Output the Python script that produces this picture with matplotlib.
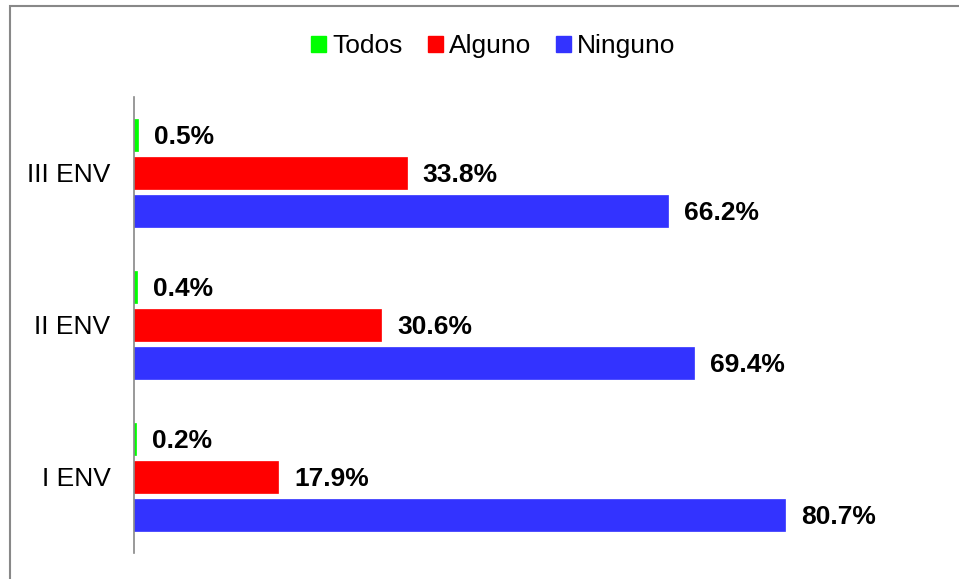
import matplotlib.pyplot as plt
from matplotlib.patches import Rectangle, Patch
import numpy as np

# survey rounds and share of answers (%)
categories = ['I ENV', 'II ENV', 'III ENV']
todos = [0.2, 0.4, 0.5]
alguno = [17.9, 30.6, 33.8]
ninguno = [80.7, 69.4, 66.2]

series_names = ['Todos', 'Alguno', 'Ninguno']
colors = ['#00FF00', '#FF0000', '#3333FF']

plt.rcParams['font.family'] = ['Liberation Sans', 'DejaVu Sans']
fs = 19

fig = plt.figure(figsize=(9.59, 5.79), dpi=100)
ax = fig.add_axes([134 / 959, 26 / 579, 807 / 959, 456 / 579])

y = np.arange(len(categories))
offsets = [0.25, 0.0, -0.25]
height = 0.205

for values, offset, color in zip([todos, alguno, ninguno], offsets, colors):
    bars = ax.barh(y + offset, values, height=height, color=color, edgecolor=color, linewidth=0.5)
    for bar, v in zip(bars, values):
        ax.annotate(f'{v:.1f}%', (bar.get_width(), bar.get_y() + bar.get_height() / 2),
                    xytext=(16, -2), textcoords='offset pixels',
                    ha='left', va='center', fontsize=fs, fontweight='bold')

ax.set_xlim(0, 100)
ax.set_ylim(-0.5, 2.5)
ax.set_yticks(y)
ax.set_yticklabels(categories, fontsize=fs)
ax.tick_params(axis='y', length=0, pad=17)
ax.set_xticks([])
for side in ['top', 'right', 'bottom']:
    ax.spines[side].set_visible(False)
ax.spines['left'].set_color('#888888')
ax.spines['left'].set_linewidth(1.2)

# legend across the top
handles = [Patch(facecolor=c, edgecolor=c) for c in colors]
fig.legend(handles, series_names, loc='center', bbox_to_anchor=(0.5146, 0.9206),
           ncol=3, frameon=False, fontsize=fs, handlelength=0.57, handleheight=0.57,
           handletextpad=0.23, columnspacing=0.95)

# outer chart frame
fig.patches.append(Rectangle((9.5 / 959, -0.1), 1.2, (579 - 6.5) / 579 + 0.1,
                             transform=fig.transFigure, fill=False,
                             edgecolor='#888888', linewidth=1.5, clip_on=False))

fig.savefig('out.png', dpi=100)
